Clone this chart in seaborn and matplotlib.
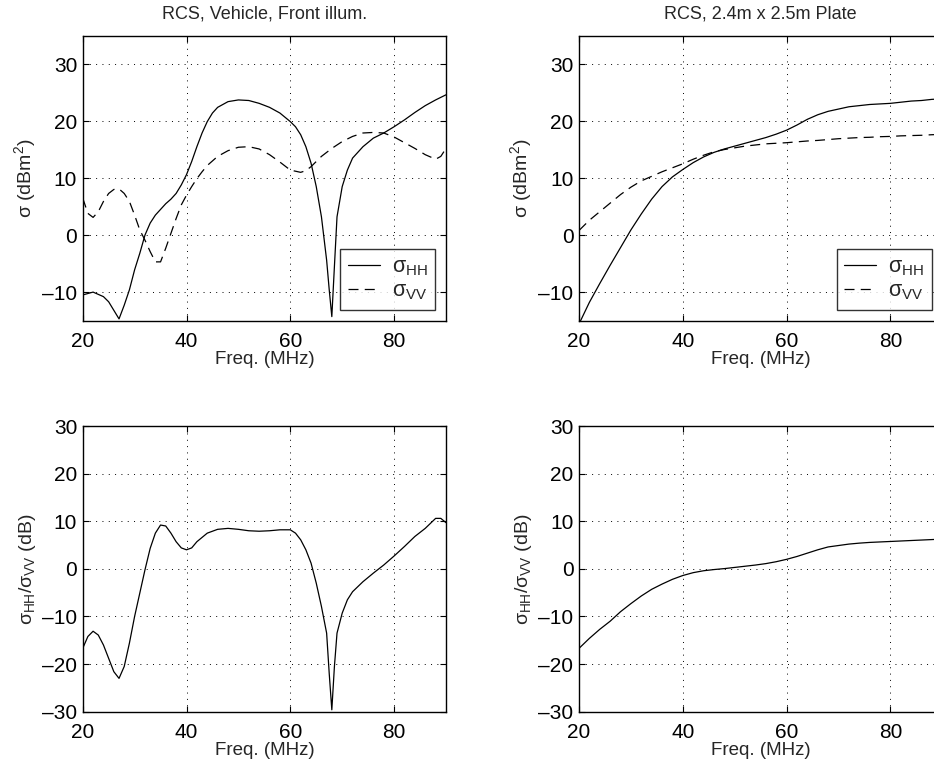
import numpy as np
import pandas as pd
import matplotlib
matplotlib.use("Agg")
import matplotlib.pyplot as plt
import seaborn as sns

# ---------------- data ----------------
veh_freq = [20, 22, 24, 25, 26, 27, 28, 29, 30, 31, 32, 33, 34, 35, 36, 37, 38, 39, 40,
            41, 42, 43, 44, 45, 46, 48, 50, 52, 54, 56, 58, 60, 61, 62, 63, 64, 65, 66,
            67, 67.5, 68, 68.5, 69, 70, 71, 72, 74, 76, 78, 80, 82, 84, 86, 88, 90]
veh_hh = [-10.5, -10.0, -10.8, -11.7, -13.2, -14.7, -12.3, -9.6, -6.1, -3.2, 0.0, 2.1,
          3.5, 4.5, 5.5, 6.3, 7.3, 8.8, 10.6, 12.9, 15.5, 17.9, 19.9, 21.4, 22.4, 23.4,
          23.7, 23.6, 23.1, 22.4, 21.4, 19.9, 19.0, 17.6, 15.5, 12.6, 8.5, 3.2, -4.4,
          -9.6, -14.3, -5.5, 3.2, 8.5, 11.4, 13.5, 15.5, 17.0, 17.9, 19.0, 20.2, 21.5,
          22.7, 23.7, 24.6]

veh_freq_vv = [20, 21, 22, 23, 24, 25, 26, 27, 28, 29, 30, 31, 32, 33, 34, 35, 36, 37,
               38, 39, 40, 41, 42, 43, 44, 46, 48, 50, 52, 54, 56, 58, 60, 62, 63, 64,
               66, 68, 70, 72, 74, 76, 78, 80, 82, 84, 86, 88, 89, 90]
veh_vv = [6.5, 3.8, 3.1, 4.1, 5.9, 7.3, 8.0, 8.1, 7.3, 5.9, 3.5, 0.9, -0.9, -2.9, -4.7,
          -4.7, -2.3, 0.3, 2.9, 5.3, 7.0, 8.5, 9.9, 11.1, 12.2, 13.8, 14.8, 15.4, 15.5,
          15.1, 14.1, 12.8, 11.4, 11.0, 11.3, 12.0, 13.8, 15.2, 16.4, 17.3, 17.9, 18.0,
          17.9, 17.2, 16.2, 15.2, 14.1, 13.3, 13.8, 15.2]

veh_freq_ratio = [20, 21, 22, 23, 24, 25, 26, 27, 28, 29, 30, 31, 32, 33, 34, 35, 36, 37,
                  38, 39, 40, 41, 42, 44, 46, 48, 50, 52, 54, 56, 58, 60, 61, 62, 63, 64,
                  65, 66, 67, 67.5, 68, 68.5, 69, 70, 71, 72, 74, 76, 78, 80, 82, 84, 86,
                  88, 89, 90]
veh_ratio = [-16.7, -14.2, -13.1, -13.9, -16.0, -18.8, -21.6, -23.0, -20.5, -15.6, -10.0,
             -5.1, -0.2, 4.3, 7.5, 9.2, 9.0, 7.5, 5.7, 4.4, 4.0, 4.4, 5.7, 7.5, 8.3, 8.5,
             8.3, 8.0, 7.9, 8.0, 8.2, 8.2, 7.5, 6.1, 4.0, 1.2, -3.0, -7.9, -13.5, -22.0,
             -29.6, -20.5, -13.5, -9.3, -6.5, -4.8, -2.7, -0.9, 0.8, 2.7, 4.7, 6.8, 8.5,
             10.6, 10.6, 9.7]

plate_freq = [20, 22, 24, 26, 28, 30, 32, 34, 36, 38, 40, 42, 44, 46, 48, 50, 52, 54, 56,
              58, 60, 62, 64, 66, 68, 70, 72, 74, 76, 78, 80, 82, 84, 86, 88, 90]
plate_hh = [-15.6, -11.8, -8.5, -5.3, -2.2, 0.9, 3.7, 6.3, 8.5, 10.2, 11.5, 12.7, 13.7,
            14.5, 15.1, 15.6, 16.1, 16.6, 17.1, 17.7, 18.4, 19.3, 20.3, 21.1, 21.7, 22.1,
            22.5, 22.7, 22.9, 23.0, 23.1, 23.3, 23.5, 23.6, 23.8, 23.9]
plate_vv = [0.8, 2.6, 4.1, 5.6, 7.1, 8.4, 9.5, 10.3, 11.1, 11.8, 12.5, 13.3, 14.0, 14.6,
            15.0, 15.3, 15.6, 15.8, 16.0, 16.1, 16.2, 16.35, 16.5, 16.6, 16.75, 16.9, 17.0,
            17.1, 17.15, 17.25, 17.3, 17.4, 17.45, 17.5, 17.6, 17.65]
plate_ratio = [-16.7, -14.6, -12.7, -11.0, -9.0, -7.3, -5.7, -4.3, -3.2, -2.2, -1.4, -0.8,
               -0.4, -0.15, 0.05, 0.3, 0.55, 0.8, 1.1, 1.5, 2.0, 2.6, 3.3, 4.0, 4.6, 4.9,
               5.2, 5.4, 5.55, 5.65, 5.75, 5.85, 5.95, 6.05, 6.15, 6.25]

titles = ["RCS, Vehicle, Front illum.", "RCS, 2.4m x 2.5m Plate"]
x_ticks = [20, 40, 60, 80]
rcs_yticks = [-10, 0, 10, 20, 30]
ratio_yticks = [-30, -20, -10, 0, 10, 20, 30]

# ---------------- style ----------------
sns.set_theme(style="white")
plt.rcParams["font.family"] = ["Liberation Sans", "DejaVu Sans"]
plt.rcParams["mathtext.fontset"] = "custom"
plt.rcParams["mathtext.rm"] = "Liberation Sans"
plt.rcParams["mathtext.it"] = "Liberation Sans"
plt.rcParams["mathtext.bf"] = "Liberation Sans:bold"

fig = plt.figure(figsize=(9.34, 7.66), dpi=100)
W, H = 934.0, 766.0

def axes_px(left, top, right, bottom):
    return fig.add_axes([left / W, 1 - bottom / H, (right - left) / W, (bottom - top) / H])

ax_tl = axes_px(82.7, 35.5, 446.0, 320.6)
ax_tr = axes_px(579.0, 35.5, 942.3, 320.6)
ax_bl = axes_px(82.7, 426.0, 446.0, 711.7)
ax_br = axes_px(579.0, 426.0, 942.3, 711.7)

lw = 0.9
dash = (8, 5)

def style_axes(ax, yticks, ylim, ylabel):
    ax.set_xlim(20, 90)
    ax.set_ylim(*ylim)
    ax.set_xticks(x_ticks)
    ax.set_yticks(yticks)
    ax.set_yticklabels([str(t).replace("-", "\u2013") for t in yticks])
    ax.grid(True, color="black", linestyle=(0, (1, 5.5)), linewidth=0.7)
    for s in ax.spines.values():
        s.set_color("black")
        s.set_linewidth(1.0)
    ax.tick_params(direction="in", length=4, width=0.8, color="black",
                   labelsize=15, top=True, right=True,
                   bottom=True, left=True, labelcolor="black")
    ax.tick_params(axis="x", pad=8)
    ax.tick_params(axis="y", pad=4)
    ax.set_xlabel("Freq. (MHz)", fontsize=13.5, labelpad=0)
    ax.set_ylabel(ylabel, fontsize=14, labelpad=3)

# top-left
sns.lineplot(x=veh_freq, y=veh_hh, ax=ax_tl, color="black", linewidth=lw,
             label=r"$\sigma_{\mathrm{HH}}$", estimator=None, sort=False)
sns.lineplot(x=veh_freq_vv, y=veh_vv, ax=ax_tl, color="black", linewidth=lw,
             label=r"$\sigma_{\mathrm{VV}}$", estimator=None, sort=False)
ax_tl.lines[1].set_dashes(dash)
# top-right
sns.lineplot(x=plate_freq, y=plate_hh, ax=ax_tr, color="black", linewidth=lw,
             label=r"$\sigma_{\mathrm{HH}}$", estimator=None, sort=False)
sns.lineplot(x=plate_freq, y=plate_vv, ax=ax_tr, color="black", linewidth=lw,
             label=r"$\sigma_{\mathrm{VV}}$", estimator=None, sort=False)
ax_tr.lines[1].set_dashes(dash)
# bottom
sns.lineplot(x=veh_freq_ratio, y=veh_ratio, ax=ax_bl, color="black", linewidth=lw,
             estimator=None, sort=False)
sns.lineplot(x=plate_freq, y=plate_ratio, ax=ax_br, color="black", linewidth=lw,
             estimator=None, sort=False)

for ax, t in zip([ax_tl, ax_tr], titles):
    style_axes(ax, rcs_yticks, (-15, 35), r"σ (dBm$^2$)")
    ax.set_title(t, fontsize=13, pad=12)
    leg = ax.legend(loc="lower right", fontsize=15.5, frameon=True, fancybox=False,
                    borderaxespad=0.5, handlelength=1.5, handletextpad=0.55,
                    borderpad=0.35, labelspacing=0.12)
    leg.get_frame().set_edgecolor("black")
    leg.get_frame().set_linewidth(1.0)
    for l in leg.get_lines():
        l.set_linewidth(lw)
    leg.get_lines()[1].set_dashes(dash)

for ax in [ax_bl, ax_br]:
    style_axes(ax, ratio_yticks, (-30, 30),
               r"$\sigma_{\mathrm{HH}}/\sigma_{\mathrm{VV}}$ (dB)")

fig.savefig("out.png", dpi=100, facecolor="white")
